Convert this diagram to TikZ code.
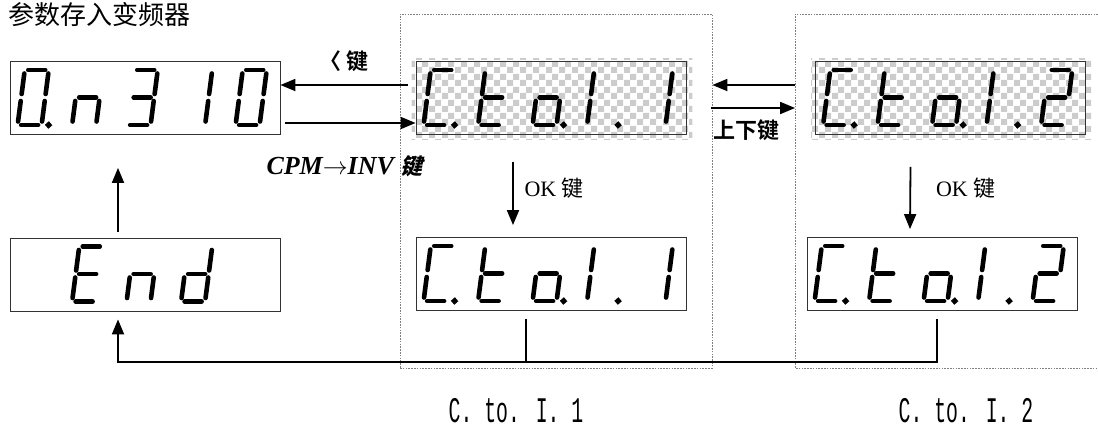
\documentclass[tikz,border=0pt]{standalone}
\usepackage{fontspec}
\setmainfont{Liberation Serif}
\newfontfamily\cjk{Noto Sans CJK SC}
\newfontfamily\cjkbold{Noto Sans CJK SC Bold}
\newfontfamily\cjkslant[FakeSlant=0.25]{Noto Sans CJK SC Bold}
\newfontfamily\codefont[FakeStretch=0.55]{Liberation Mono}
\usetikzlibrary{arrows.meta, positioning, calc, backgrounds, patterns.meta}
\definecolor{chkgray}{HTML}{CCCCCC}
\definecolor{frameline}{HTML}{808080}
\definecolor{boxline}{HTML}{333333}
\tikzdeclarepattern{name=checks, type=uncolored,
  bounding box={(0pt,0pt) and (13pt,13pt)}, tile size={(13pt,13pt)},
  code={\fill (0pt,0pt) rectangle (6.5pt,6.5pt) (6.5pt,6.5pt) rectangle (13pt,13pt);}}
\tikzset{
  disp/.style   = {rectangle, draw=boxline, line width=0.8pt, minimum width=270,
                   minimum height=73, inner sep=0pt},
  segline/.style= {line width=4.6pt, line cap=round, draw=black},
  seg a/.style  = {insert path={(3.5,-55) -- (20.5,-55)}},
  seg b/.style  = {insert path={(24,-51.5) -- (24,-31)}},
  seg c/.style  = {insert path={(24,-24) -- (24,-3.5)}},
  seg d/.style  = {insert path={(3.5,0) -- (20.5,0)}},
  seg e/.style  = {insert path={(0,-24) -- (0,-3.5)}},
  seg f/.style  = {insert path={(0,-51.5) -- (0,-31)}},
  seg g/.style  = {insert path={(3.5,-27.5) -- (20.5,-27.5)}},
  seg p/.style  = {insert path={(31,0) circle[radius=0.5]}},
  seg x/.style  = {},
  flow/.style   = {-{Triangle[length=15pt,width=12pt]}, line width=1.8pt},
  link/.style   = {line width=1.2pt},
  frame/.style  = {draw=frameline, line width=0.9pt, dash pattern=on 1.6pt off 1.2pt},
  keylbl/.style = {font=\cjkbold\fontsize{22}{22}\selectfont},
  oklbl/.style  = {anchor=west, font=\fontsize{22}{22}\selectfont},
  codelbl/.style= {font=\codefont\fontsize{36}{36}\selectfont},
}
% one row of seven-segment digits inside a display box
\newcommand{\segrow}[2]{%
  \foreach \segs [count=\k from 0] in {#2}{%
    \begin{scope}[shift={($(#1.west)+(8+54.5*\k,27)$)}, xslant=0.13]
      \foreach \s in \segs {\draw[segline, seg \s];}
    \end{scope}}}

\begin{document}
\begin{tikzpicture}[x=1pt, y=-1pt]
  \useasboundingbox (0,0) rectangle (1098,437);
  \node[anchor=west, inner sep=0pt, font=\cjk\fontsize{26}{26}\selectfont] (title) at (8,15) {参数存入变频器};

  % dotted frames
  \node[frame, minimum width=312, minimum height=354, inner sep=0pt] (f1) at (556,191) {};
  \draw[frame] (1098,14) -| (795,368) -- (1098,368);

  % displays
  \node[disp] (on)  at (145,98)    {};
  \node[disp] (c1)  at (551,98)    {};
  \node[disp] (c2)  at (950.5,98)  {};
  \node[disp] (en)  at (145,274.5) {};
  \node[disp] (c1b) at (551,274)   {};
  \node[disp] (c2b) at (942,274)   {};
  \begin{scope}[on background layer]
    \fill[pattern=checks, pattern color=chkgray] ($(c1.south west)+(-4,5)$) rectangle ($(c1.north east)+(6,-3)$);
    \fill[pattern=checks, pattern color=chkgray] ($(c2.south west)+(-4,5)$) rectangle ($(c2.north east)+(6,-3)$);
  \end{scope}

  \segrow{on}{{a,b,c,d,e,f,p},{c,e,g},{a,b,c,d,g},{b,c},{a,b,c,d,e,f}}
  \segrow{c1}{{a,d,e,f,p},{d,e,f,g},{c,d,e,g,p},{e,f,p},{b,c}}
  \segrow{c2}{{a,d,e,f,p},{d,e,f,g},{c,d,e,g,p},{e,f,p},{a,b,d,e,g}}
  \segrow{en}{x,{a,d,e,f,g},{c,e,g},{b,c,d,e,g}}
  \segrow{c1b}{{a,d,e,f,p},{d,e,f,g},{c,d,e,g,p},{e,f,p},{b,c}}
  \segrow{c2b}{{a,d,e,f,p},{d,e,f,g},{c,d,e,g,p},{e,f,p},{a,b,d,e,g}}

  % key arrows
  \draw[flow] ($(c1.west)+(-8,-13)$) -- ($(on.east)+(0,-13)$);
  \draw[flow] ($(on.east)+(5,25)$) -- ($(c1.west)+(0,25)$);
  \node[keylbl] (k1) at (344,61) {〈 键};
  \node[anchor=east, font=\bfseries\itshape\fontsize{26}{26}\selectfont] (k2) at (426,166)
    {CPM$\rightarrow$INV {\cjkslant\fontsize{22}{22}\selectfont 键}};
  \draw[flow] ($(c2.west)+(-20,-13)$) -- ($(c1.east)+(26,-13)$);
  \draw[flow] ($(c1.east)+(25,10)$) -- ($(c2.west)+(-20,10)$);
  \node[keylbl] (k3) at (746,130) {上下键};

  \draw[flow] ($(c1.south)+(-38,27)$) -- ($(c1b.north)+(-38,-12)$);
  \node[oklbl] (ok1) at ($(c1.south)+(-30,53)$) {OK {\cjk 键}};
  \draw[flow] ($(c2.south)+(-40,32)$) -- ($(c2b.north)+(-32,-8)$);
  \node[oklbl] (ok2) at ($(c2.south)+(-18,53)$) {OK {\cjk 键}};

  \draw[flow] ($(en.north)+(-27,-6)$) -- ($(on.south)+(-27,33)$);

  % return line
  \draw[link] ($(c1b.south)+(-25,8)$) -- ($(c1b.south)+(-25,51)$);
  \draw[flow] ($(c2b.south)+(-5,8)$) -- ($(c2b.south)+(-5,51)$) -| ($(en.south)+(-27,8)$);

  \node[codelbl] (l1) at (516,411) {C. to. I. 1};
  \node[codelbl] (l2) at (966,411) {C. to. I. 2};
\end{tikzpicture}
\end{document}
